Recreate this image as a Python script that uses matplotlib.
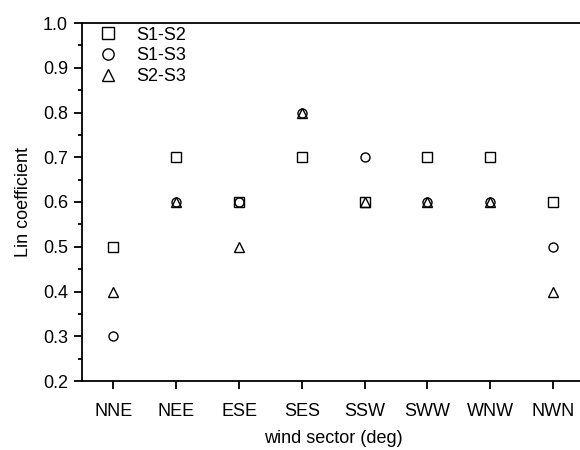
import matplotlib
matplotlib.use("Agg")
import matplotlib.pyplot as plt
from matplotlib.ticker import MultipleLocator

plt.rcParams['font.family'] = ['Liberation Sans', 'DejaVu Sans']

sectors = ["NNE", "NEE", "ESE", "SES", "SSW", "SWW", "WNW", "NWN"]
s1_s2 = [0.5, 0.7, 0.6, 0.7, 0.6, 0.7, 0.7, 0.6]
s1_s3 = [0.3, 0.6, 0.6, 0.8, 0.7, 0.6, 0.6, 0.5]
s2_s3 = [0.4, 0.6, 0.5, 0.8, 0.6, 0.6, 0.6, 0.4]

fig = plt.figure(figsize=(5.8, 4.5), dpi=100)
ax = fig.add_axes([82 / 580, 1 - 381 / 450, (584.5 - 82) / 580, (381 - 23) / 450])

x = range(1, len(sectors) + 1)
common = dict(linestyle='none', markerfacecolor='none', markeredgecolor='black',
              markeredgewidth=1.0, markersize=6.5)
ax.plot(x, s1_s2, marker='s', label='S1-S2', **common)
ax.plot(x, s1_s3, marker='o', label='S1-S3', **common)
ax.plot(x, s2_s3, marker='^', label='S2-S3', **common)

ax.set_xlim(0.5, 8.5)
ax.set_ylim(0.2, 1.0)
ax.set_xticks(list(x))
ax.set_xticklabels(sectors)
ax.yaxis.set_major_locator(MultipleLocator(0.1))
ax.yaxis.set_minor_locator(MultipleLocator(0.05))
ax.yaxis.set_major_formatter(plt.FormatStrFormatter('%.1f'))

for side in ('top', 'left', 'bottom'):
    ax.spines[side].set_linewidth(1.3)
ax.spines['right'].set_visible(False)

ax.tick_params(axis='both', direction='out', labelsize=13, width=1.3, length=6, pad=4)
ax.tick_params(axis='y', which='minor', direction='out', width=1.3, length=3)
ax.tick_params(axis='x', which='major', pad=10)

ax.set_xlabel('wind sector (deg)', fontsize=13, labelpad=7)
ax.set_ylabel('Lin coefficient', fontsize=13, labelpad=8)

ax.legend(loc='upper left', frameon=False, fontsize=13, handletextpad=0.8,
          labelspacing=0.2, borderaxespad=0.0, bbox_to_anchor=(0.01, 1.01),
          handlelength=1.5, markerscale=1.25)

fig.savefig('out.png', dpi=100)
